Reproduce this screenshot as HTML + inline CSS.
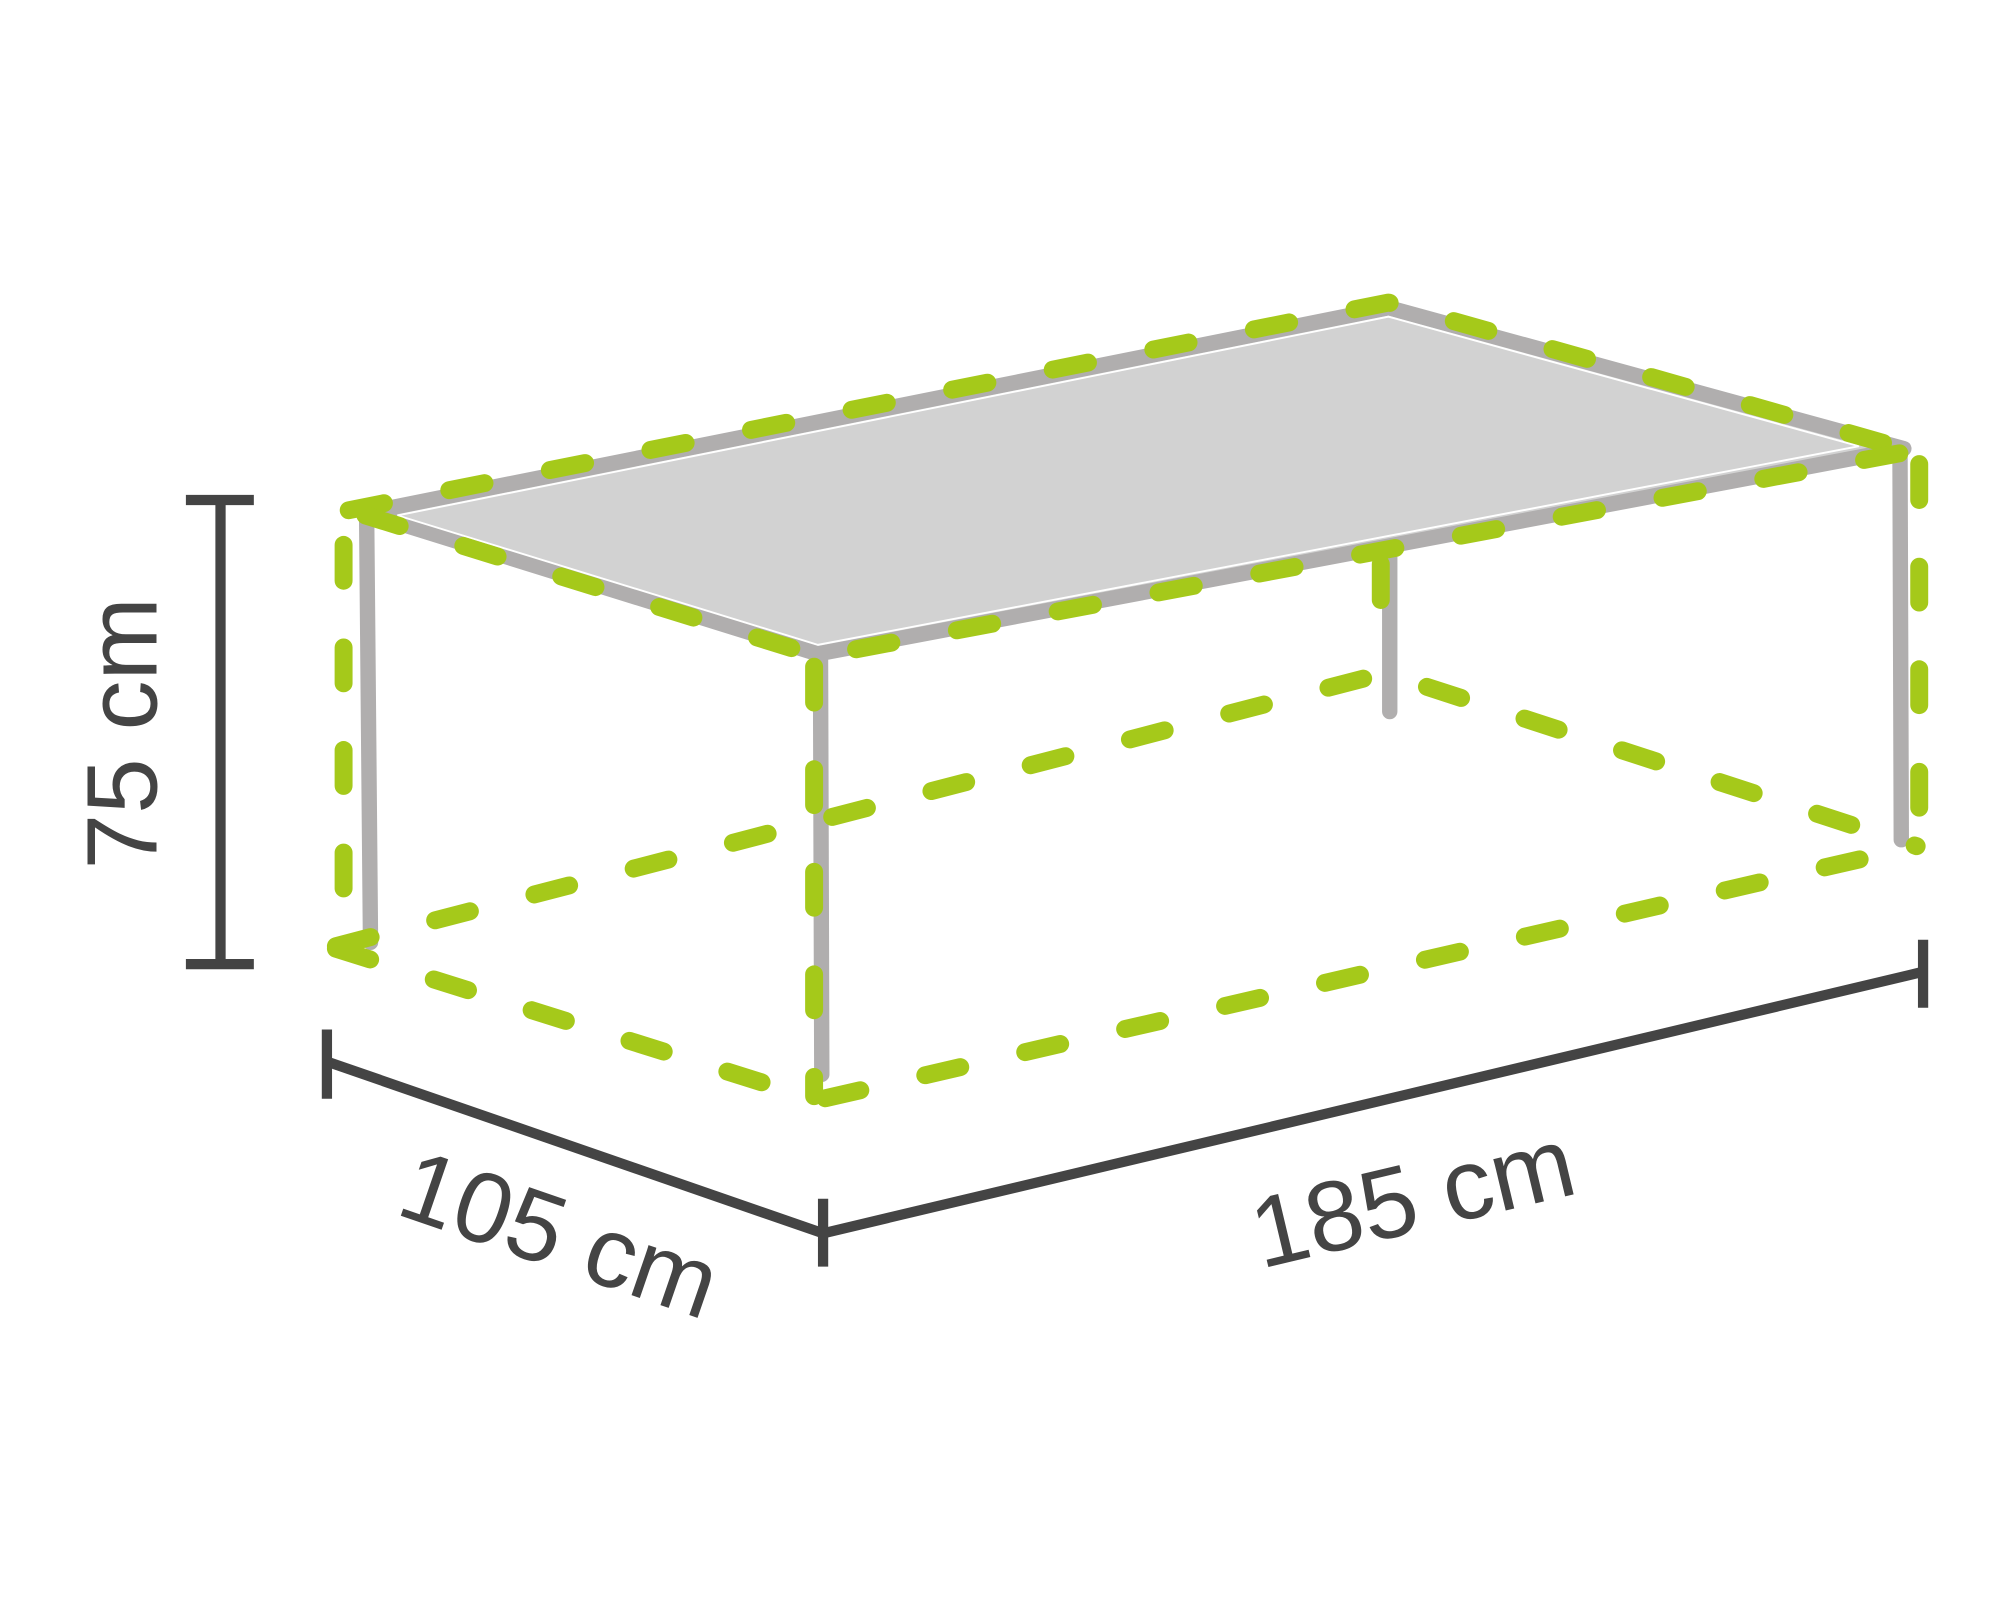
<!DOCTYPE html>
<html><head><style>html,body{margin:0;padding:0;background:#fff}svg{display:block}</style></head>
<body>
<svg width="2000" height="1600" viewBox="0 0 1560 1248" xmlns="http://www.w3.org/2000/svg">
<g stroke="#b0aeae" stroke-width="12" fill="none" stroke-linecap="round" stroke-linejoin="round">
<polygon points="285,400 638,510 1485,350 1083,240" fill="#d2d2d2"/>
<line x1="286" y1="405" x2="289" y2="735"/>
<line x1="640" y1="515" x2="641" y2="838"/>
<line x1="1482" y1="355" x2="1483" y2="655"/>
<line x1="1084" y1="430" x2="1084" y2="555"/>
</g>
<polygon points="310,402 638,503 1450,348 1083,247" fill="#d2d2d2" stroke="#fff" stroke-width="1.5"/>
<g stroke="#a5c91a" stroke-width="14" fill="none" stroke-linecap="round" stroke-linejoin="round" stroke-dasharray="28 52">
<polyline points="272,398 1083,236 1492,352"/>
<polyline points="285,402 638,512 1490,352"/>
<line x1="268" y1="425" x2="268" y2="740"/>
<line x1="635" y1="520" x2="635" y2="855"/>
<line x1="1497" y1="362" x2="1497" y2="660"/>
<line x1="1077" y1="440" x2="1077" y2="520"/>
<polyline points="262,738 1080,525 1495,660"/>
<polyline points="262,740 638,858 1495,660"/>
</g>
<g stroke="#444" stroke-width="8" fill="none">
<line x1="172" y1="390" x2="172" y2="752"/>
<line x1="145" y1="390" x2="198" y2="390"/>
<line x1="145" y1="752" x2="198" y2="752"/>
<line x1="255" y1="828" x2="642" y2="962"/>
<line x1="642" y1="962" x2="1500" y2="758"/>
<line x1="255" y1="803" x2="255" y2="857"/>
<line x1="642" y1="935" x2="642" y2="988"/>
<line x1="1500" y1="733" x2="1500" y2="786"/>
</g>
<g font-family="Liberation Sans, sans-serif" font-size="78" fill="#444" text-anchor="middle">
<text transform="translate(122,572) rotate(-90)">75 cm</text>
<text transform="translate(428,988) rotate(19)">105 cm</text>
<text transform="translate(1108,960) rotate(-13.4)">185 cm</text>
</g>
</svg>
</body></html>
